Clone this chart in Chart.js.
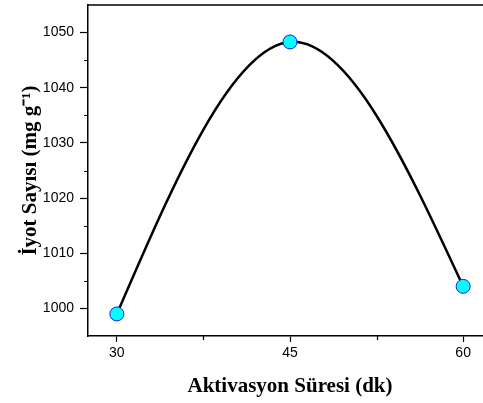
<!DOCTYPE html>
<html>
<head>
<meta charset="utf-8">
<script src="https://cdn.jsdelivr.net/npm/chart.js@4.4.0/dist/chart.umd.min.js"></script>
<style>
  html, body { margin: 0; padding: 0; background: #fff; overflow: hidden; }
  #myChart { display: block; }
</style>
</head>
<body>
<canvas id="myChart" width="492" height="403"></canvas>
<script>
// data
const sureler = [30, 45, 60];            // Aktivasyon Süresi (dk)
const iyotSayisi = [999, 1048.3, 1004];  // İyot Sayısı (mg g-1)

const xTicks = [30, 45, 60];
const xMinor = [37.5, 52.5];
const yTicks = [1000, 1010, 1020, 1030, 1040, 1050];
const yMinor = [1005, 1015, 1025, 1035, 1045];

// natural cubic spline through the line's points (pixel space), like Origin's spline connect
const splinePlugin = {
    id: "naturalSpline",
    beforeDatasetDraw(chart, args) {
        let meta = args.meta;
        let line = meta.dataset;
        let pts = meta.data;
        if (!line || pts.length < 3) return;
        line.updateControlPoints(chart.chartArea, "x");

        let n = pts.length;
        let h = [];
        for (let i = 0; i < n - 1; i++) h.push(pts[i + 1].x - pts[i].x);

        // solve for second derivatives, M[0] = M[n-1] = 0
        let M = new Array(n).fill(0);
        let a = [], b = [], c = [], d = [];
        for (let i = 1; i < n - 1; i++) {
            a.push(h[i - 1]);
            b.push(2 * (h[i - 1] + h[i]));
            c.push(h[i]);
            d.push(6 * ((pts[i + 1].y - pts[i].y) / h[i] - (pts[i].y - pts[i - 1].y) / h[i - 1]));
        }
        let m = b.length;
        for (let i = 1; i < m; i++) {
            let w = a[i] / b[i - 1];
            b[i] -= w * c[i - 1];
            d[i] -= w * d[i - 1];
        }
        let sol = new Array(m).fill(0);
        for (let i = m - 1; i >= 0; i--) {
            sol[i] = (d[i] - (i < m - 1 ? c[i] * sol[i + 1] : 0)) / b[i];
        }
        for (let i = 0; i < m; i++) M[i + 1] = sol[i];

        // slopes at each point
        let s = [];
        for (let i = 0; i < n - 1; i++) {
            s.push((pts[i + 1].y - pts[i].y) / h[i] - h[i] * (2 * M[i] + M[i + 1]) / 6);
        }
        let hl = h[n - 2];
        s.push((pts[n - 1].y - pts[n - 2].y) / hl + hl * (M[n - 2] + 2 * M[n - 1]) / 6);

        for (let i = 0; i < n; i++) {
            let p = pts[i];
            if (i < n - 1) {
                p.cp2x = p.x + h[i] / 3;
                p.cp2y = p.y + s[i] * h[i] / 3;
            }
            if (i > 0) {
                p.cp1x = p.x - h[i - 1] / 3;
                p.cp1y = p.y - s[i] * h[i - 1] / 3;
            }
        }
    }
};

// top frame line and the small minor ticks
const framePlugin = {
    id: "frame",
    afterDraw(chart) {
        let ctx = chart.ctx;
        let area = chart.chartArea;
        let xs = chart.scales.x;
        let ys = chart.scales.y;
        ctx.save();
        ctx.strokeStyle = "#000";
        ctx.lineWidth = 1.5;
        ctx.beginPath();
        ctx.moveTo(area.left - 0.75, area.top);
        ctx.lineTo(area.right, area.top);
        ctx.stroke();

        ctx.lineWidth = 1.2;
        ctx.beginPath();
        xMinor.forEach((v) => {
            let px = Math.round(xs.getPixelForValue(v)) + 0.5;
            ctx.moveTo(px, area.bottom);
            ctx.lineTo(px, area.bottom + 4);
        });
        yMinor.forEach((v) => {
            let py = Math.round(ys.getPixelForValue(v)) + 0.5;
            ctx.moveTo(area.left, py);
            ctx.lineTo(area.left - 4, py);
        });
        ctx.stroke();
        ctx.restore();
    }
};

// fixed axis sizes, no extra label padding around the plot
function noPad(scale) {
    scale.paddingTop = 0;
    scale.paddingBottom = 0;
    scale.paddingLeft = 0;
    scale.paddingRight = 0;
}

const config = {
    type: "line",
    data: {
        datasets: [{
            data: sureler.map((x, i) => ({ x: x, y: iyotSayisi[i] })),
            borderColor: "#000",
            borderWidth: 2.5,
            tension: 0.4,
            pointRadius: 7,
            pointBackgroundColor: "#00FFFF",
            pointBorderColor: "#1A1AFF",
            pointBorderWidth: 1,
            clip: false
        }]
    },
    options: {
        responsive: false,
        animation: false,
        events: [],
        layout: { autoPadding: false, padding: { top: 5, left: 0, right: 0, bottom: 0 } },
        plugins: {
            legend: { display: false },
            tooltip: { enabled: false }
        },
        scales: {
            x: {
                type: "linear",
                min: 27.5,
                max: 62.5,
                afterBuildTicks: (scale) => { scale.ticks = xTicks.map((v) => ({ value: v })); },
                afterFit: (scale) => { scale.height = 67; noPad(scale); },
                border: { color: "#000", width: 1.5 },
                grid: { drawOnChartArea: false, tickLength: 6, tickColor: "#000", tickWidth: 1.2 },
                ticks: {
                    padding: 3,
                    color: "#000",
                    maxRotation: 0,
                    callback: (v) => String(v),
                    font: { family: "'Liberation Sans', Arial, sans-serif", size: 14 }
                },
                title: {
                    display: true,
                    text: "Aktivasyon Süresi (dk)",
                    color: "#000",
                    padding: { top: 0, bottom: 4 },
                    font: { family: "'Liberation Serif', 'Times New Roman', serif", size: 21, weight: "bold" }
                }
            },
            y: {
                min: 995,
                max: 1055,
                afterBuildTicks: (scale) => { scale.ticks = yTicks.map((v) => ({ value: v })); },
                afterFit: (scale) => { scale.width = 88; noPad(scale); },
                border: { color: "#000", width: 1.5 },
                grid: { drawOnChartArea: false, tickLength: 8, tickColor: "#000", tickWidth: 1.2 },
                ticks: {
                    padding: 6,
                    color: "#000",
                    callback: (v) => String(v),
                    font: { family: "'Liberation Sans', Arial, sans-serif", size: 14 }
                },
                title: {
                    display: true,
                    text: "İyot Sayısı (mg g⁻¹)",
                    color: "#000",
                    padding: { top: 18, bottom: 0 },
                    font: { family: "'Liberation Serif', 'Times New Roman', serif", size: 21, weight: "bold" }
                }
            }
        }
    },
    plugins: [splinePlugin, framePlugin]
};

const myChart = new Chart(document.getElementById("myChart"), config);
</script>
</body>
</html>
